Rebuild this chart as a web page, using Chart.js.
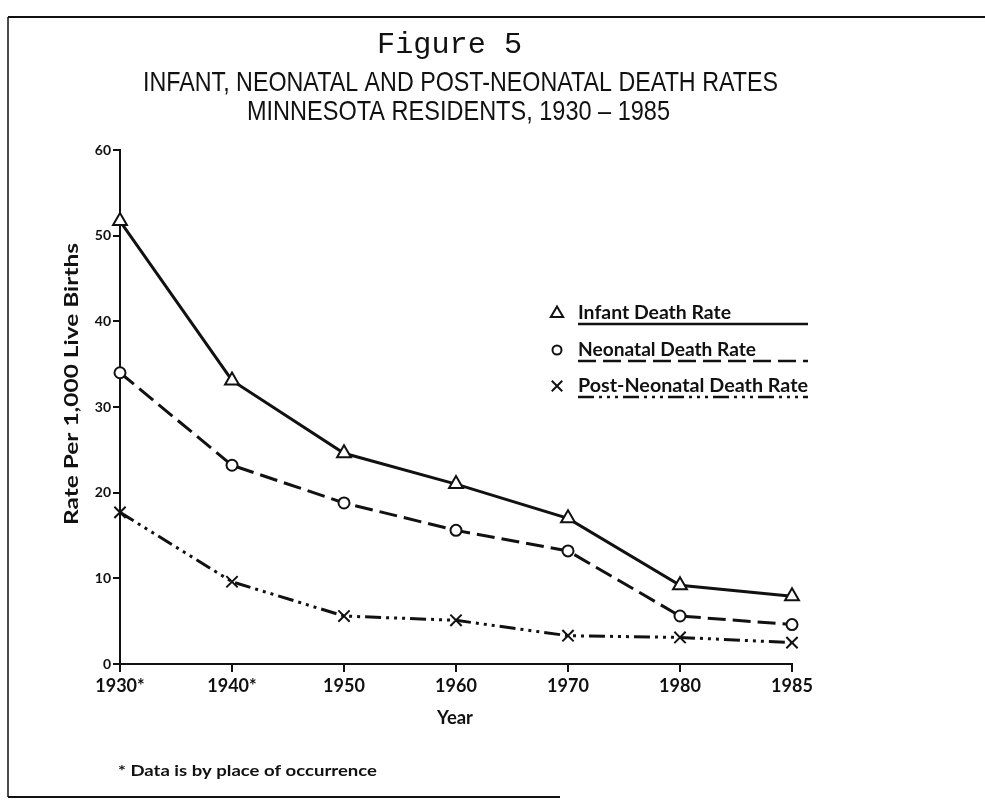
<!DOCTYPE html>
<html><head><meta charset="utf-8">
<script src="https://cdn.jsdelivr.net/npm/chart.js@4/dist/chart.umd.min.js"></script>
<style>html,body{margin:0;padding:0;background:#fff}#wrap{width:985px;height:806px;position:relative}</style>
</head><body><div id="wrap"><canvas id="c" width="985" height="806"></canvas></div>
<script>
// ---- data ----
const years = ['1930*','1940*','1950','1960','1970','1980','1985'];
const infantRate = [51.7, 33.1, 24.6, 21.0, 17.0, 9.2, 7.9];
const neonatalRate = [34.0, 23.2, 18.8, 15.6, 13.2, 5.6, 4.6];
const postNeonatalRate = [17.7, 9.6, 5.6, 5.1, 3.3, 3.1, 2.5];
const seriesLabels = ['Infant Death Rate', 'Neonatal Death Rate', 'Post-Neonatal Death Rate'];
const yTickValues = [0, 10, 20, 30, 40, 50, 60];
const figureLabel = 'Figure 5';
const titleLines = ['INFANT, NEONATAL AND POST-NEONATAL DEATH RATES', 'MINNESOTA RESIDENTS, 1930 \u2013 1985'];
const yAxisTitle = 'Rate Per 1,000 Live Births';
const xAxisTitle = 'Year';
const footnote = '* Data is by place of occurrence';

// ---- style ----
const INK = '#111';
const FONT = 'Lato, "Open Sans", "DejaVu Sans", sans-serif';
const dashes = [[], [18, 7], [16, 5, 3, 5, 3, 5, 3, 5]];
const styles = ['triangle', 'circle', 'crossRot'];
const radii = [8, 5.5, 8];

function fitText(ctx, text, x, y, width, font, align) {
  ctx.save();
  ctx.font = font;
  const w = ctx.measureText(text).width;
  const s = width / w;
  ctx.translate(x, y);
  ctx.scale(s, 1);
  ctx.textBaseline = 'middle';
  ctx.textAlign = align || 'center';
  ctx.fillText(text, 0, 0);
  ctx.restore();
}

function marker(ctx, style, x, y, r) {
  ctx.save();
  ctx.strokeStyle = INK; ctx.lineWidth = 2; ctx.fillStyle = '#fff';
  ctx.beginPath();
  if (style === 'triangle') {
    ctx.moveTo(x, y - r); ctx.lineTo(x + r * 0.95, y + r * 0.6); ctx.lineTo(x - r * 0.95, y + r * 0.6); ctx.closePath();
    ctx.fill(); ctx.stroke();
  } else if (style === 'circle') {
    ctx.arc(x, y, r, 0, Math.PI * 2); ctx.fill(); ctx.stroke();
  } else {
    ctx.moveTo(x - r * 0.75, y - r * 0.75); ctx.lineTo(x + r * 0.75, y + r * 0.75);
    ctx.moveTo(x + r * 0.75, y - r * 0.75); ctx.lineTo(x - r * 0.75, y + r * 0.75); ctx.stroke();
  }
  ctx.restore();
}

const decor = {
  id: 'decor',
  afterDraw(chart) {
    const ctx = chart.ctx;
    ctx.save();
    ctx.fillStyle = INK; ctx.strokeStyle = INK;
    // frame
    ctx.lineWidth = 2;
    ctx.beginPath(); ctx.moveTo(8, 17); ctx.lineTo(985, 17); ctx.stroke();
    ctx.lineWidth = 1.5;
    ctx.beginPath(); ctx.moveTo(8, 17); ctx.lineTo(8, 797); ctx.stroke();
    ctx.lineWidth = 2;
    ctx.beginPath(); ctx.moveTo(8, 797); ctx.lineTo(560, 797); ctx.stroke();
    // titles
    fitText(ctx, figureLabel, 449.5, 45, 145, '30px "Liberation Mono", "DejaVu Sans Mono", monospace');
    fitText(ctx, titleLines[0], 460.5, 83, 635, '28px "Liberation Sans Narrow", "Liberation Sans", sans-serif');
    fitText(ctx, titleLines[1], 458.5, 112, 423, '28px "Liberation Sans Narrow", "Liberation Sans", sans-serif');
    // axis titles
    fitText(ctx, xAxisTitle, 455, 718, 36, 'bold 18px ' + FONT);
    ctx.save();
    ctx.translate(72, 384); ctx.rotate(-Math.PI / 2);
    fitText(ctx, yAxisTitle, 0, 0, 282, 'bold 18px ' + FONT);
    ctx.restore();
    // footnote
    fitText(ctx, footnote, 118, 771, 259, 'bold 15px ' + FONT, 'left');
    // legend
    const rowsY = [313, 350, 386];
    const textW = [153, 178, 230];
    const legR = [6.5, 4.5, 7];
    chart.data.datasets.forEach((ds, i) => {
      marker(ctx, styles[i], 557, rowsY[i], legR[i]);
      fitText(ctx, ds.label, 578, rowsY[i], textW[i], 'bold 18px ' + FONT, 'left');
      ctx.save();
      ctx.lineWidth = 2.5; ctx.setLineDash(dashes[i]);
      ctx.beginPath(); ctx.moveTo(578, rowsY[i] + 11); ctx.lineTo(808, rowsY[i] + 11); ctx.stroke();
      ctx.restore();
    });
    ctx.restore();
  }
};

const mk = (label, data, i) => ({
  label, data,
  borderColor: INK, borderWidth: 3, borderDash: dashes[i],
  pointStyle: styles[i], pointRadius: radii[i], pointHoverRadius: radii[i],
  pointBorderWidth: 2, pointBackgroundColor: '#fff', pointBorderColor: INK,
  fill: false, tension: 0
});

new Chart(document.getElementById('c'), {
  type: 'line',
  data: {
    labels: years,
    datasets: [mk(seriesLabels[0], infantRate, 0), mk(seriesLabels[1], neonatalRate, 1), mk(seriesLabels[2], postNeonatalRate, 2)]
  },
  options: {
    responsive: false, animation: false, devicePixelRatio: 1,
    layout: { padding: { left: 0, top: 150, right: 193, bottom: 96 } },
    plugins: { legend: { display: false }, title: { display: false }, tooltip: { enabled: false } },
    scales: {
      x: {
        type: 'category', offset: false,
        grid: { display: true, drawOnChartArea: false, drawTicks: true, tickLength: 8, color: INK, lineWidth: 2 },
        border: { display: true, color: INK, width: 2 },
        ticks: { color: INK, font: { family: FONT, size: 18, weight: 'bold' }, padding: 3, maxRotation: 0, autoSkip: false },
        afterFit(s) { s.height = 46; }
      },
      y: {
        min: 0, max: 60,
        afterBuildTicks(s) { s.ticks = yTickValues.map(v => ({ value: v })); },
        grid: { display: true, drawOnChartArea: false, drawTicks: true, tickLength: 7, color: INK, lineWidth: 2 },
        border: { display: true, color: INK, width: 2 },
        ticks: { color: INK, font: { family: FONT, size: 14, weight: 'bold' }, padding: 2 },
        afterFit(s) { s.width = 120; }
      }
    }
  },
  plugins: [decor]
});
</script>
</body></html>
